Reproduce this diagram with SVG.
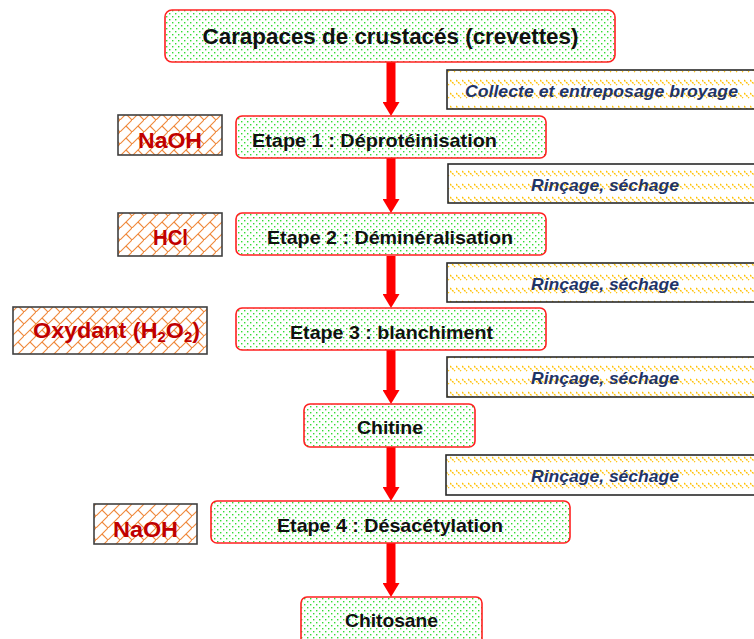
<svg xmlns="http://www.w3.org/2000/svg" width="754" height="639" viewBox="0 0 754 639">
<style>
.step{stroke:#FF2020;stroke-width:1.6;fill:url(#dots)}
.reag{stroke:#404040;stroke-width:1.6;fill:url(#brick)}
.proc{stroke:#2a2a2a;stroke-width:1.6;fill:url(#dash)}
.t{font-family:"Liberation Sans",Arial,sans-serif;font-weight:bold;fill:#111;text-anchor:middle}
.r{font-family:"Liberation Sans",Arial,sans-serif;font-weight:bold;fill:#C00000;text-anchor:middle}
.p{font-family:"Liberation Sans",Arial,sans-serif;font-weight:bold;font-style:italic;fill:#1F3468;text-anchor:middle}
.arr{stroke:#FF0000;stroke-width:9;marker-end:url(#head)}
</style>
<defs>
<pattern id="dots" width="6" height="6" patternUnits="userSpaceOnUse">
<rect width="6" height="6" fill="#fff"/>
<rect x="1" y="1" width="1.4" height="1.4" fill="#33DD33"/>
<rect x="4" y="4" width="1.4" height="1.4" fill="#33DD33"/>
</pattern>
<pattern id="brick" width="12" height="12" patternUnits="userSpaceOnUse">
<rect width="12" height="12" fill="#fff"/>
<path d="M-1,13 L13,-1 M6,6 L12,12" stroke="#F0883A" stroke-width="1.1" fill="none"/>
</pattern>
<pattern id="dash" width="6" height="13" patternUnits="userSpaceOnUse">
<rect width="6" height="13" fill="#fff"/>
<path d="M0,2 L5,7" stroke="#FFC000" stroke-width="1.4" stroke-dasharray="2 1"/>
</pattern>
<marker id="head" markerUnits="userSpaceOnUse" viewBox="0 0 14 17" markerWidth="14" markerHeight="17" refX="4" refY="8.5" orient="auto">
<path d="M0,0 L14,8.5 L0,17 z" fill="#FF0000"/>
</marker>
</defs>

<g id="connectors">
<line class="arr" x1="391" y1="62" x2="391" y2="106"/>
<line class="arr" x1="391" y1="158" x2="391" y2="203"/>
<line class="arr" x1="391" y1="256" x2="391" y2="298"/>
<line class="arr" x1="391" y1="350" x2="391" y2="394"/>
<line class="arr" x1="391" y1="447" x2="391" y2="491"/>
<line class="arr" x1="391" y1="543" x2="391" y2="587"/>
</g>

<g id="n-carapaces">
<rect class="step" x="165" y="10" width="450" height="52" rx="7"/>
<text class="t" x="390.5" y="44" font-size="22.5" textLength="376" lengthAdjust="spacingAndGlyphs">Carapaces de crustacés (crevettes)</text>
</g>
<g id="p-collecte">
<rect class="proc" x="447" y="70" width="312" height="39"/>
<text class="p" x="601.5" y="97" font-size="17" textLength="273" lengthAdjust="spacingAndGlyphs">Collecte et entreposage broyage</text>
</g>

<g id="r-naoh1">
<rect class="reag" x="118" y="115" width="104" height="40"/>
<text class="r" x="170" y="148" font-size="22" textLength="64" lengthAdjust="spacingAndGlyphs">NaOH</text>
</g>
<g id="n-etape1">
<rect class="step" x="236" y="116" width="310" height="42" rx="6"/>
<text class="t" x="374.5" y="147" font-size="19" textLength="245" lengthAdjust="spacingAndGlyphs">Etape 1 : Déprotéinisation</text>
</g>
<g id="p-rincage1">
<rect class="proc" x="448" y="164" width="311" height="39"/>
<text class="p" x="605" y="191" font-size="17" textLength="148" lengthAdjust="spacingAndGlyphs">Rinçage, séchage</text>
</g>

<g id="r-hcl">
<rect class="reag" x="118" y="213" width="104" height="43"/>
<text class="r" x="170.5" y="245" font-size="22" textLength="35" lengthAdjust="spacingAndGlyphs">HCl</text>
</g>
<g id="n-etape2">
<rect class="step" x="236" y="213" width="310" height="42" rx="6"/>
<text class="t" x="390" y="244" font-size="19" textLength="246" lengthAdjust="spacingAndGlyphs">Etape 2 : Déminéralisation</text>
</g>
<g id="p-rincage2">
<rect class="proc" x="447" y="263" width="312" height="39"/>
<text class="p" x="605" y="290" font-size="17" textLength="148" lengthAdjust="spacingAndGlyphs">Rinçage, séchage</text>
</g>

<g id="r-oxydant">
<rect class="reag" x="13" y="307" width="194" height="47"/>
<text class="r" x="116.5" y="338" font-size="22" textLength="167" lengthAdjust="spacingAndGlyphs">Oxydant (H<tspan font-size="14" dy="4">2</tspan><tspan dy="-4">O</tspan><tspan font-size="14" dy="4">2</tspan><tspan dy="-4">)</tspan></text>
</g>
<g id="n-etape3">
<rect class="step" x="236" y="308" width="310" height="42" rx="6"/>
<text class="t" x="391.5" y="339" font-size="19" textLength="203" lengthAdjust="spacingAndGlyphs">Etape 3 : blanchiment</text>
</g>
<g id="p-rincage3">
<rect class="proc" x="447" y="357" width="312" height="40"/>
<text class="p" x="605" y="384" font-size="17" textLength="148" lengthAdjust="spacingAndGlyphs">Rinçage, séchage</text>
</g>

<g id="n-chitine">
<rect class="step" x="304" y="404" width="171" height="43" rx="6"/>
<text class="t" x="390" y="434" font-size="19" textLength="66" lengthAdjust="spacingAndGlyphs">Chitine</text>
</g>
<g id="p-rincage4">
<rect class="proc" x="446" y="455" width="313" height="40"/>
<text class="p" x="605" y="482" font-size="17" textLength="148" lengthAdjust="spacingAndGlyphs">Rinçage, séchage</text>
</g>

<g id="r-naoh2">
<rect class="reag" x="94" y="504" width="103" height="40"/>
<text class="r" x="145.5" y="537" font-size="22" textLength="65" lengthAdjust="spacingAndGlyphs">NaOH</text>
</g>
<g id="n-etape4">
<rect class="step" x="211" y="501" width="359" height="42" rx="6"/>
<text class="t" x="390" y="532" font-size="19" textLength="226" lengthAdjust="spacingAndGlyphs">Etape 4 : Désacétylation</text>
</g>

<g id="n-chitosane">
<rect class="step" x="301" y="597" width="181" height="50" rx="6"/>
<text class="t" x="391.5" y="627" font-size="19" textLength="93" lengthAdjust="spacingAndGlyphs">Chitosane</text>
</g>
</svg>
